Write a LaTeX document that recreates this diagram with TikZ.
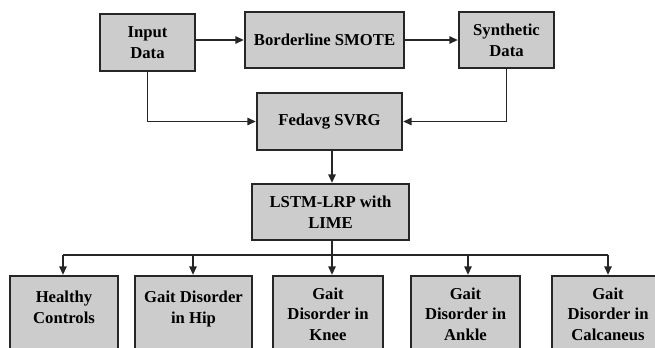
\documentclass[tikz,border=0pt]{standalone}
\usepackage{fontspec}
\setmainfont{Liberation Serif}
\usetikzlibrary{arrows.meta}
\begin{document}
\begin{tikzpicture}[x=0.75pt,y=-0.75pt,
  box/.style={draw=black!85,line width=1.6pt,fill=black!20,inner sep=0pt,align=center,
    font=\fontsize{12.5}{15.5}\selectfont\bfseries},
  conn/.style={line width=1.4pt,draw=black!85},
  arr/.style={conn,-{Triangle[length=6.5pt,width=5.5pt]}}]
\useasboundingbox (0,0) rectangle (655,347);
\begin{scope}
\clip (0,0) rectangle (655,347);
\node[box,minimum width=95*0.75pt,minimum height=57*0.75pt] (in) at (147.5,42.5) {Input\\Data};
\node[box,minimum width=159*0.75pt,minimum height=56*0.75pt] (bs) at (324.5,40) {Borderline SMOTE};
\node[box,minimum width=95*0.75pt,minimum height=56*0.75pt] (syn) at (506.5,40) {Synthetic\\Data};
\node[box,minimum width=145*0.75pt,minimum height=57*0.75pt] (fed) at (329.5,121.5) {Fedavg SVRG};
\node[box,minimum width=157*0.75pt,minimum height=56*0.75pt] (lstm) at (330.5,212) {LSTM-LRP with\\LIME};
\node[box,minimum width=108*0.75pt,minimum height=76*0.75pt] (hc) at (64,314) {Healthy\\Controls\\[-5pt]};
\node[box,minimum width=117*0.75pt,minimum height=76*0.75pt] (hip) at (193.5,314) {Gait Disorder\\in Hip\\[-5pt]};
\node[box,minimum width=110*0.75pt,minimum height=76*0.75pt] (knee) at (328,314) {Gait\\Disorder in\\Knee};
\node[box,minimum width=109*0.75pt,minimum height=76*0.75pt] (ankle) at (465.5,314) {Gait\\Disorder in\\Ankle};
\node[box,minimum width=112*0.75pt,minimum height=76*0.75pt] (calc) at (608,314) {Gait\\Disorder in\\Calcaneus};
\end{scope}
\draw[arr] (in.east |- bs.west) -- (bs.west);
\draw[arr] (bs.east) -- (syn.west);
\draw[arr] (in.south) |- (fed.west);
\draw[arr] (syn.south) |- (fed.east);
\coordinate (fs) at (332,150);
\draw[arr] (fed.south -| fs) -- (fs |- lstm.north);
\coordinate (br) at (332,255);
\draw[conn] (lstm.south -| br) -- (br);
\coordinate (bl) at (63,255);
\coordinate (brr) at (608,255);
\draw[conn] (bl) -- (brr);
\draw[arr] (bl) -- (bl |- hc.north);
\draw[arr] (193,255) coordinate (b2) -- (b2 |- hip.north);
\draw[arr] (br) -- (br |- knee.north);
\draw[arr] (468,255) coordinate (b4) -- (b4 |- ankle.north);
\draw[arr] (brr) -- (brr |- calc.north);
\end{tikzpicture}
\end{document}
